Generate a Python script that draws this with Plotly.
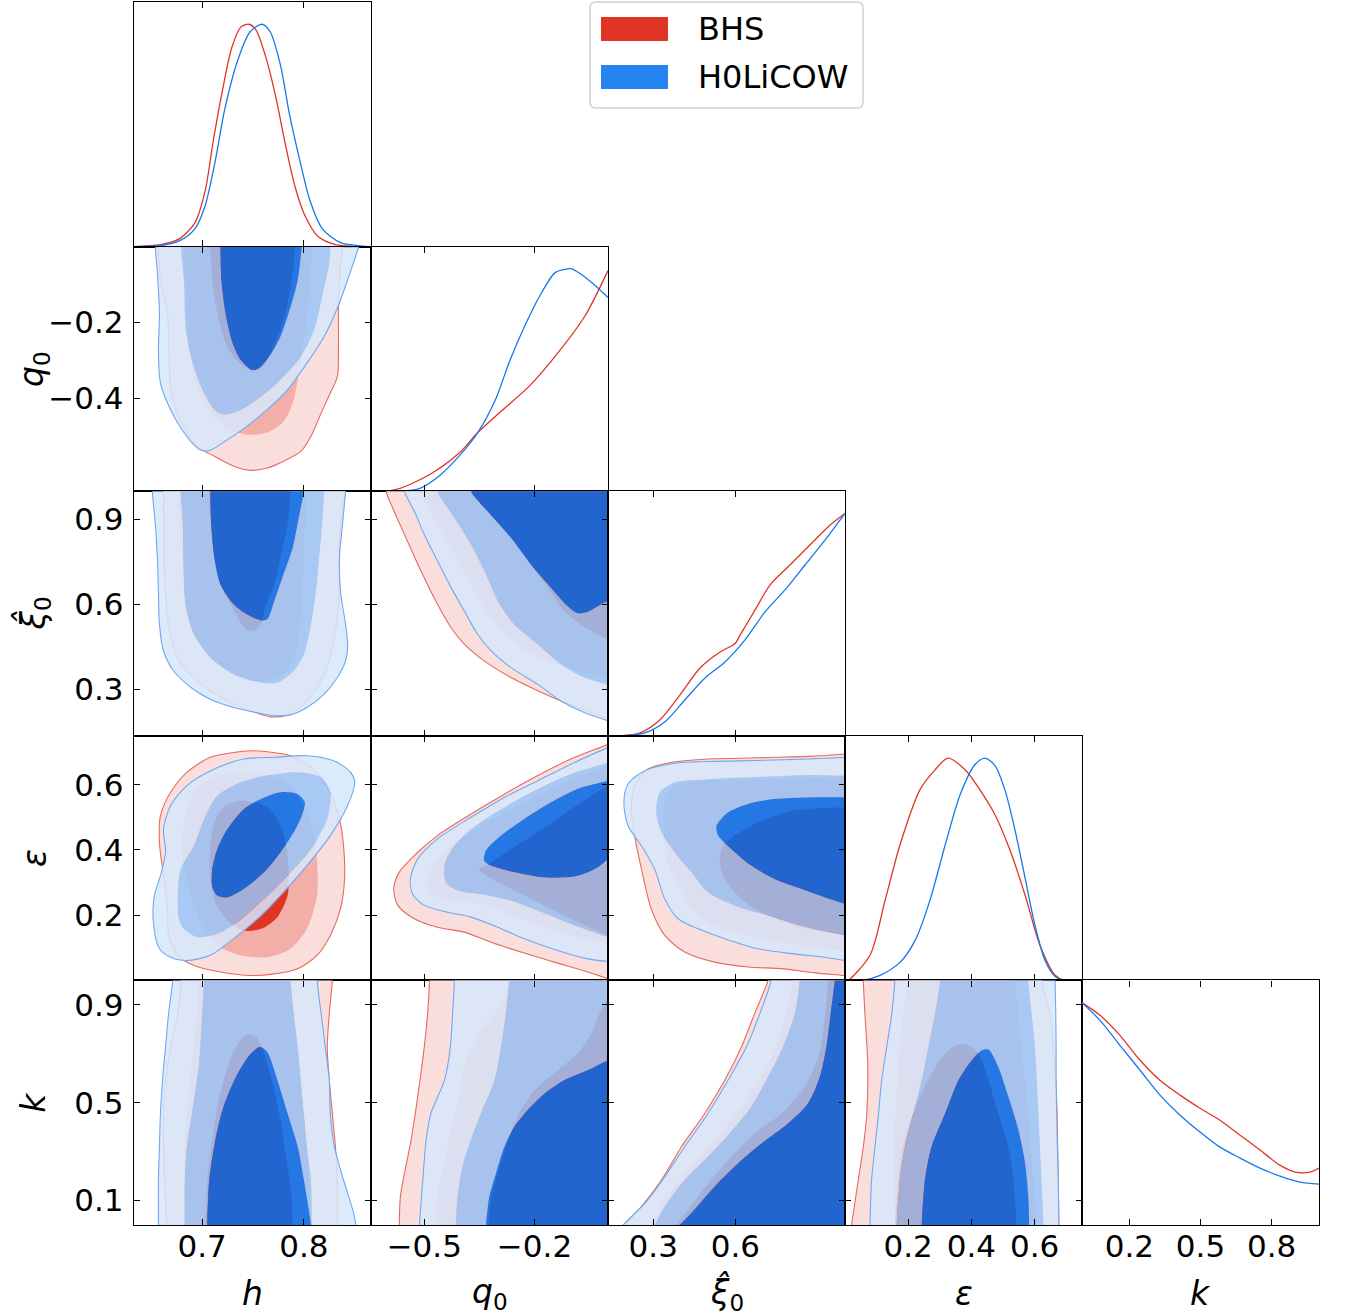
import plotly.graph_objects as go

# ---------------- axes ----------------
VARS = ['h', 'q0', 'xi0', 'eps', 'k']
RANGES = {'h': [0.633, 0.866], 'q0': [-0.645, 0.0], 'xi0': [0.135, 1.0],
          'eps': [0.0, 0.75], 'k': [0.0, 1.0]}
XTICKS = {'h': [0.7, 0.8], 'q0': [-0.5, -0.2], 'xi0': [0.3, 0.6],
          'eps': [0.2, 0.4, 0.6], 'k': [0.2, 0.5, 0.8]}
YTICKS = {'q0': [-0.2, -0.4], 'xi0': [0.3, 0.6, 0.9],
          'eps': [0.2, 0.4, 0.6], 'k': [0.1, 0.5, 0.9]}
LABELS = {'h': '<i>h</i>', 'q0': '<i>q</i><sub>0</sub>', 'xi0': '<i>ξ̂</i><sub>0</sub>',
          'eps': '<i>ε</i>', 'k': '<i>k</i>'}
SERIES = ['BHS', 'H0LiCOW']

# ---------------- 1D marginals ----------------
h1_red_x = [0.633, 0.659, 0.678, 0.693, 0.703, 0.711, 0.720, 0.729, 0.738, 0.746, 0.753, 0.762, 0.772, 0.781, 0.791, 0.801, 0.814, 0.831, 0.866]
h1_red_y = [0, 0.009, 0.036, 0.108, 0.252, 0.478, 0.703, 0.893, 0.987, 1.0, 0.974, 0.861, 0.681, 0.478, 0.275, 0.140, 0.045, 0.009, 0]
h1_blue_x = [0.633, 0.659, 0.678, 0.693, 0.703, 0.713, 0.722, 0.735, 0.747, 0.759, 0.767, 0.777, 0.786, 0.796, 0.806, 0.818, 0.836, 0.866]
h1_blue_y = [0, 0.005, 0.027, 0.081, 0.185, 0.388, 0.613, 0.838, 0.965, 1.0, 0.965, 0.816, 0.591, 0.388, 0.207, 0.081, 0.018, 0]

q1_red_x = [-0.607, -0.566, -0.484, -0.403, -0.354, -0.294, -0.212, -0.131, -0.062, 0.0]
q1_red_y = [0, 0.013, 0.076, 0.175, 0.265, 0.355, 0.476, 0.633, 0.790, 0.992]
q1_blue_x = [-0.566, -0.512, -0.457, -0.403, -0.354, -0.307, -0.267, -0.226, -0.185, -0.144, -0.109, -0.098, -0.076, -0.035, 0.0]
q1_blue_y = [0, 0.013, 0.072, 0.162, 0.265, 0.409, 0.588, 0.745, 0.880, 0.983, 1.0, 1.0, 0.979, 0.925, 0.871]

x1_red_x = [0.179, 0.252, 0.325, 0.398, 0.471, 0.544, 0.599, 0.617, 0.672, 0.726, 0.799, 0.872, 0.945, 1.0]
x1_red_y = [0, 0.013, 0.072, 0.184, 0.305, 0.377, 0.415, 0.453, 0.566, 0.678, 0.768, 0.858, 0.947, 1.0]
x1_blue_x = [0.197, 0.270, 0.343, 0.416, 0.489, 0.562, 0.635, 0.708, 0.781, 0.854, 0.927, 1.0]
x1_blue_y = [0, 0.013, 0.063, 0.162, 0.260, 0.332, 0.431, 0.557, 0.656, 0.768, 0.880, 1.0]

e1_red_x = [0.0, 0.009, 0.079, 0.127, 0.174, 0.237, 0.285, 0.326, 0.380, 0.427, 0.475, 0.522, 0.570, 0.617, 0.665, 0.696, 0.75]
e1_red_y = [0, 0, 0.113, 0.361, 0.609, 0.857, 0.947, 1.0, 0.947, 0.857, 0.744, 0.586, 0.383, 0.158, 0.023, 0, 0]
e1_blue_x = [0.0, 0.054, 0.111, 0.174, 0.222, 0.269, 0.317, 0.364, 0.411, 0.443, 0.475, 0.506, 0.538, 0.570, 0.601, 0.633, 0.665, 0.696, 0.75]
e1_blue_y = [0, 0, 0.023, 0.081, 0.180, 0.361, 0.609, 0.834, 0.970, 1.0, 0.965, 0.857, 0.676, 0.460, 0.248, 0.090, 0.018, 0, 0]

k1_red_x = [0, 0.076, 0.160, 0.245, 0.329, 0.414, 0.498, 0.582, 0.667, 0.751, 0.835, 0.899, 0.962, 1.0]
k1_red_y = [1.0, 0.943, 0.853, 0.741, 0.651, 0.584, 0.525, 0.471, 0.404, 0.337, 0.269, 0.238, 0.238, 0.256]
k1_blue_x = [0, 0.076, 0.160, 0.245, 0.329, 0.414, 0.498, 0.582, 0.667, 0.751, 0.835, 0.920, 1.0]
k1_blue_y = [1.0, 0.920, 0.808, 0.696, 0.584, 0.494, 0.418, 0.350, 0.301, 0.256, 0.220, 0.193, 0.184]

# ---------------- 2D contours (outer 3 -> inner 1), data units ----------------
# (h, q0)
hq_red3 = [(0.657, 0.05), (0.657, 0), (0.659, -0.088), (0.666, -0.176), (0.667, -0.263), (0.669, -0.369), (0.674, -0.430), (0.685, -0.492), (0.695, -0.527), (0.712, -0.553), (0.731, -0.579), (0.748, -0.590), (0.764, -0.584), (0.780, -0.566), (0.797, -0.540), (0.807, -0.500), (0.817, -0.439), (0.826, -0.386), (0.833, -0.342), (0.834, -0.263), (0.834, -0.176), (0.835, -0.088), (0.838, 0), (0.840, 0.05)]
hq_red2 = [(0.682, 0.05), (0.682, 0), (0.684, -0.132), (0.687, -0.263), (0.695, -0.369), (0.708, -0.439), (0.725, -0.479), (0.744, -0.496), (0.764, -0.490), (0.780, -0.461), (0.789, -0.413), (0.795, -0.334), (0.800, -0.246), (0.805, -0.132), (0.808, 0), (0.808, 0.05)]
hq_red1 = [(0.708, 0.05), (0.708, 0), (0.710, -0.088), (0.715, -0.176), (0.723, -0.255), (0.735, -0.303), (0.748, -0.327), (0.758, -0.320), (0.767, -0.281), (0.777, -0.220), (0.784, -0.149), (0.789, -0.070), (0.791, 0), (0.791, 0.05)]
hq_blue3 = [(0.654, 0.06), (0.654, 0), (0.656, -0.070), (0.658, -0.176), (0.657, -0.281), (0.659, -0.360), (0.666, -0.413), (0.676, -0.465), (0.689, -0.514), (0.699, -0.537), (0.708, -0.537), (0.725, -0.509), (0.744, -0.474), (0.764, -0.430), (0.784, -0.378), (0.803, -0.307), (0.820, -0.237), (0.833, -0.162), (0.843, -0.088), (0.854, 0), (0.860, 0.06)]
hq_blue2 = [(0.679, 0.04), (0.679, 0), (0.682, -0.088), (0.684, -0.220), (0.689, -0.290), (0.699, -0.369), (0.712, -0.430), (0.721, -0.443), (0.738, -0.430), (0.758, -0.395), (0.777, -0.351), (0.797, -0.290), (0.810, -0.220), (0.818, -0.132), (0.825, -0.044), (0.826, 0), (0.826, 0.04)]
hq_blue1 = [(0.718, 0.02), (0.718, 0), (0.719, -0.088), (0.723, -0.176), (0.730, -0.255), (0.738, -0.299), (0.749, -0.325), (0.756, -0.320), (0.766, -0.290), (0.777, -0.237), (0.787, -0.158), (0.794, -0.088), (0.798, 0), (0.799, 0.02)]

# (h, xi0)
hx_red3 = [(0.662, 1.05), (0.662, 1.0), (0.662, 0.882), (0.663, 0.706), (0.666, 0.553), (0.671, 0.459), (0.679, 0.388), (0.699, 0.317), (0.725, 0.258), (0.748, 0.223), (0.767, 0.202), (0.784, 0.209), (0.800, 0.247), (0.813, 0.306), (0.823, 0.376), (0.830, 0.482), (0.834, 0.588), (0.835, 0.694), (0.835, 0.823), (0.838, 0.941), (0.841, 1.0), (0.842, 1.05)]
hx_red2 = [(0.677, 1.05), (0.677, 1.0), (0.679, 0.823), (0.682, 0.647), (0.690, 0.506), (0.708, 0.412), (0.731, 0.353), (0.754, 0.327), (0.774, 0.341), (0.787, 0.388), (0.795, 0.482), (0.798, 0.612), (0.800, 0.765), (0.801, 0.882), (0.802, 1.0), (0.802, 1.05)]
hx_red1 = [(0.707, 1.05), (0.707, 1.0), (0.708, 0.882), (0.712, 0.765), (0.718, 0.670), (0.728, 0.600), (0.738, 0.535), (0.746, 0.506), (0.753, 0.512), (0.759, 0.541), (0.762, 0.588), (0.771, 0.670), (0.777, 0.765), (0.784, 0.882), (0.787, 1.0), (0.787, 1.05)]
hx_blue3 = [(0.651, 1.06), (0.651, 1.0), (0.654, 0.882), (0.656, 0.765), (0.657, 0.647), (0.658, 0.529), (0.662, 0.435), (0.672, 0.364), (0.689, 0.306), (0.708, 0.264), (0.731, 0.235), (0.758, 0.214), (0.771, 0.206), (0.787, 0.209), (0.803, 0.235), (0.820, 0.282), (0.833, 0.341), (0.841, 0.400), (0.843, 0.459), (0.841, 0.529), (0.836, 0.647), (0.835, 0.765), (0.838, 0.882), (0.841, 1.0), (0.842, 1.06)]
hx_blue2 = [(0.679, 1.04), (0.679, 1.0), (0.681, 0.882), (0.682, 0.706), (0.684, 0.588), (0.692, 0.494), (0.708, 0.412), (0.731, 0.353), (0.758, 0.323), (0.774, 0.323), (0.790, 0.364), (0.800, 0.423), (0.807, 0.529), (0.812, 0.647), (0.815, 0.765), (0.818, 0.882), (0.820, 1.0), (0.820, 1.04)]
hx_blue1 = [(0.708, 1.02), (0.708, 1.0), (0.709, 0.882), (0.712, 0.765), (0.718, 0.670), (0.731, 0.600), (0.744, 0.565), (0.758, 0.543), (0.764, 0.547), (0.771, 0.612), (0.780, 0.706), (0.789, 0.800), (0.795, 0.906), (0.800, 1.0), (0.800, 1.02)]

# (q0, xi0)
qx_red3 = [(-0.604, 1.05), (-0.604, 1.0), (-0.582, 0.929), (-0.554, 0.847), (-0.509, 0.718), (-0.464, 0.600), (-0.427, 0.517), (-0.391, 0.459), (-0.337, 0.400), (-0.264, 0.341), (-0.191, 0.294), (-0.119, 0.253), (-0.055, 0.223), (0.0, 0.194), (0.05, 0.17), (0.05, 1.05)]
qx_red2 = [(-0.509, 1.05), (-0.509, 1.0), (-0.464, 0.882), (-0.418, 0.776), (-0.373, 0.670), (-0.337, 0.588), (-0.291, 0.506), (-0.237, 0.447), (-0.164, 0.400), (-0.083, 0.364), (0.0, 0.341), (0.05, 0.33), (0.05, 1.05)]
qx_red1 = [(-0.373, 1.05), (-0.373, 1.0), (-0.328, 0.929), (-0.264, 0.835), (-0.210, 0.741), (-0.164, 0.659), (-0.119, 0.576), (-0.074, 0.529), (-0.028, 0.494), (0.0, 0.476), (0.05, 0.45), (0.05, 1.05)]
qx_blue3 = [(-0.554, 1.06), (-0.554, 1.0), (-0.527, 0.929), (-0.500, 0.847), (-0.464, 0.753), (-0.427, 0.659), (-0.391, 0.576), (-0.355, 0.494), (-0.318, 0.435), (-0.264, 0.376), (-0.191, 0.317), (-0.128, 0.258), (-0.065, 0.217), (0.0, 0.188), (0.06, 0.16), (0.06, 1.06)]
qx_blue2 = [(-0.464, 1.04), (-0.464, 1.0), (-0.418, 0.906), (-0.373, 0.812), (-0.332, 0.706), (-0.300, 0.612), (-0.255, 0.529), (-0.191, 0.459), (-0.128, 0.388), (-0.065, 0.341), (0.0, 0.315), (0.04, 0.30), (0.04, 1.04)]
qx_blue1 = [(-0.373, 1.02), (-0.373, 1.0), (-0.328, 0.929), (-0.264, 0.835), (-0.210, 0.741), (-0.155, 0.659), (-0.110, 0.594), (-0.083, 0.569), (-0.055, 0.574), (-0.019, 0.600), (0.0, 0.612), (0.02, 0.62), (0.02, 1.02)]

# (h, eps) closed
he_red3 = [(0.748, 0.704), (0.731, 0.699), (0.708, 0.684), (0.685, 0.638), (0.669, 0.577), (0.659, 0.505), (0.658, 0.423), (0.662, 0.321), (0.666, 0.219), (0.667, 0.138), (0.676, 0.077), (0.692, 0.046), (0.718, 0.026), (0.748, 0.015), (0.771, 0.020), (0.794, 0.036), (0.813, 0.077), (0.826, 0.138), (0.836, 0.219), (0.840, 0.311), (0.839, 0.413), (0.835, 0.495), (0.826, 0.577), (0.810, 0.648), (0.787, 0.689), (0.764, 0.701)]
he_red2 = [(0.741, 0.638), (0.715, 0.628), (0.695, 0.587), (0.684, 0.525), (0.681, 0.444), (0.682, 0.342), (0.689, 0.260), (0.699, 0.179), (0.715, 0.107), (0.738, 0.077), (0.764, 0.071), (0.787, 0.097), (0.803, 0.158), (0.813, 0.260), (0.813, 0.362), (0.810, 0.454), (0.800, 0.536), (0.787, 0.597), (0.767, 0.630)]
he_red1 = [(0.738, 0.551), (0.721, 0.531), (0.712, 0.485), (0.708, 0.413), (0.708, 0.321), (0.713, 0.240), (0.725, 0.184), (0.741, 0.153), (0.758, 0.158), (0.774, 0.194), (0.784, 0.260), (0.785, 0.342), (0.782, 0.423), (0.774, 0.495), (0.761, 0.536)]
he_blue3 = [(0.658, 0.097), (0.669, 0.071), (0.685, 0.061), (0.708, 0.077), (0.731, 0.128), (0.758, 0.199), (0.780, 0.270), (0.803, 0.352), (0.826, 0.444), (0.843, 0.536), (0.850, 0.607), (0.846, 0.638), (0.830, 0.673), (0.803, 0.689), (0.771, 0.684), (0.741, 0.679), (0.712, 0.648), (0.685, 0.597), (0.669, 0.536), (0.662, 0.464), (0.664, 0.393), (0.659, 0.321), (0.653, 0.260), (0.652, 0.179)]
he_blue2 = [(0.682, 0.158), (0.695, 0.133), (0.715, 0.143), (0.735, 0.179), (0.761, 0.250), (0.784, 0.321), (0.807, 0.403), (0.823, 0.495), (0.826, 0.577), (0.817, 0.622), (0.794, 0.638), (0.764, 0.628), (0.738, 0.607), (0.715, 0.566), (0.702, 0.495), (0.692, 0.413), (0.679, 0.342), (0.676, 0.260), (0.677, 0.189)]
he_blue1 = [(0.710, 0.286), (0.715, 0.260), (0.725, 0.255), (0.741, 0.281), (0.761, 0.332), (0.777, 0.393), (0.790, 0.454), (0.798, 0.505), (0.801, 0.546), (0.794, 0.571), (0.777, 0.577), (0.761, 0.561), (0.741, 0.525), (0.725, 0.464), (0.715, 0.403), (0.710, 0.342)]

# (q0, eps)
qe_red3 = [(0.05, 0.75), (0.0, 0.724), (-0.101, 0.679), (-0.191, 0.628), (-0.282, 0.571), (-0.373, 0.510), (-0.464, 0.444), (-0.527, 0.383), (-0.568, 0.332), (-0.583, 0.281), (-0.572, 0.230), (-0.527, 0.189), (-0.464, 0.163), (-0.391, 0.148), (-0.318, 0.117), (-0.237, 0.087), (-0.146, 0.056), (-0.055, 0.026), (0.0, 0.005), (0.05, -0.02)]
qe_red2 = [(0.05, 0.68), (0.0, 0.658), (-0.101, 0.617), (-0.191, 0.566), (-0.282, 0.515), (-0.373, 0.454), (-0.445, 0.393), (-0.486, 0.332), (-0.491, 0.291), (-0.473, 0.260), (-0.409, 0.240), (-0.346, 0.235), (-0.282, 0.209), (-0.210, 0.179), (-0.137, 0.148), (-0.055, 0.128), (0.0, 0.117), (0.05, 0.11)]
qe_red1 = [(0.05, 0.62), (0.0, 0.597), (-0.101, 0.525), (-0.191, 0.454), (-0.264, 0.403), (-0.332, 0.352), (-0.350, 0.342), (-0.346, 0.332), (-0.282, 0.291), (-0.191, 0.240), (-0.101, 0.189), (0.0, 0.138), (0.05, 0.12)]
qe_blue3 = [(0.06, 0.74), (0.0, 0.714), (-0.101, 0.663), (-0.191, 0.612), (-0.282, 0.561), (-0.373, 0.500), (-0.464, 0.434), (-0.518, 0.372), (-0.538, 0.311), (-0.532, 0.265), (-0.500, 0.230), (-0.436, 0.209), (-0.373, 0.194), (-0.300, 0.163), (-0.228, 0.128), (-0.137, 0.092), (-0.055, 0.066), (0.0, 0.058), (0.06, 0.05)]
qe_blue2 = [(0.04, 0.68), (0.0, 0.668), (-0.101, 0.633), (-0.191, 0.587), (-0.282, 0.531), (-0.373, 0.464), (-0.418, 0.413), (-0.444, 0.357), (-0.441, 0.301), (-0.409, 0.276), (-0.346, 0.265), (-0.264, 0.245), (-0.191, 0.214), (-0.101, 0.173), (0.0, 0.133), (0.04, 0.12)]
qe_blue1 = [(0.02, 0.62), (0.0, 0.612), (-0.083, 0.587), (-0.155, 0.546), (-0.228, 0.495), (-0.291, 0.444), (-0.332, 0.398), (-0.337, 0.367), (-0.318, 0.352), (-0.255, 0.332), (-0.173, 0.316), (-0.083, 0.321), (-0.028, 0.347), (0.0, 0.372), (0.02, 0.39)]

# (xi0, eps)
xe_red3 = [(1.05, 0.70), (1.0, 0.694), (0.865, 0.687), (0.743, 0.684), (0.622, 0.681), (0.500, 0.679), (0.378, 0.670), (0.281, 0.648), (0.232, 0.597), (0.220, 0.515), (0.232, 0.444), (0.257, 0.342), (0.293, 0.219), (0.342, 0.138), (0.415, 0.087), (0.524, 0.056), (0.646, 0.041), (0.768, 0.036), (0.890, 0.023), (1.0, 0.015), (1.05, 0.01)]
xe_red2 = [(1.05, 0.622), (1.0, 0.622), (0.743, 0.617), (0.500, 0.612), (0.378, 0.597), (0.342, 0.546), (0.339, 0.464), (0.348, 0.372), (0.391, 0.291), (0.451, 0.209), (0.537, 0.163), (0.646, 0.138), (0.768, 0.117), (0.890, 0.102), (1.0, 0.092), (1.05, 0.09)]
xe_red1 = [(1.05, 0.531), (1.0, 0.531), (0.804, 0.520), (0.683, 0.485), (0.597, 0.444), (0.555, 0.413), (0.543, 0.372), (0.555, 0.321), (0.597, 0.270), (0.670, 0.219), (0.768, 0.184), (0.865, 0.158), (1.0, 0.138), (1.05, 0.13)]
xe_blue3 = [(1.06, 0.69), (1.0, 0.684), (0.865, 0.679), (0.743, 0.676), (0.622, 0.673), (0.500, 0.671), (0.378, 0.666), (0.269, 0.643), (0.208, 0.602), (0.193, 0.546), (0.208, 0.474), (0.257, 0.413), (0.305, 0.342), (0.342, 0.250), (0.391, 0.189), (0.464, 0.158), (0.561, 0.128), (0.683, 0.097), (0.804, 0.082), (0.926, 0.071), (1.0, 0.061), (1.06, 0.055)]
xe_blue2 = [(1.04, 0.628), (1.0, 0.628), (0.865, 0.630), (0.743, 0.626), (0.622, 0.622), (0.500, 0.617), (0.378, 0.607), (0.324, 0.577), (0.311, 0.515), (0.330, 0.454), (0.378, 0.393), (0.439, 0.332), (0.500, 0.270), (0.597, 0.230), (0.719, 0.199), (0.865, 0.163), (1.0, 0.138), (1.04, 0.13)]
xe_blue1 = [(1.02, 0.561), (1.0, 0.561), (0.865, 0.561), (0.743, 0.556), (0.646, 0.541), (0.573, 0.515), (0.531, 0.474), (0.537, 0.444), (0.585, 0.403), (0.658, 0.352), (0.743, 0.311), (0.841, 0.281), (0.926, 0.255), (1.0, 0.235), (1.02, 0.23)]

# (h, k)
hk_red3 = [(0.679, 1.05), (0.679, 1.0), (0.676, 0.864), (0.669, 0.728), (0.664, 0.592), (0.662, 0.456), (0.662, 0.320), (0.663, 0.184), (0.665, 0.0), (0.665, -0.05), (0.833, -0.05), (0.833, 0.0), (0.833, 0.184), (0.831, 0.320), (0.828, 0.456), (0.825, 0.592), (0.823, 0.728), (0.825, 0.864), (0.828, 1.0), (0.828, 1.05)]
hk_red2 = [(0.697, 1.05), (0.697, 1.0), (0.695, 0.864), (0.692, 0.728), (0.688, 0.592), (0.685, 0.456), (0.683, 0.320), (0.682, 0.184), (0.682, 0.0), (0.682, -0.05), (0.807, -0.05), (0.807, 0.0), (0.805, 0.184), (0.803, 0.320), (0.800, 0.456), (0.795, 0.660), (0.790, 0.864), (0.787, 1.0), (0.787, 1.05)]
hk_red1 = [(0.703, -0.05), (0.703, 0.0), (0.705, 0.184), (0.710, 0.347), (0.715, 0.483), (0.725, 0.646), (0.735, 0.741), (0.744, 0.778), (0.753, 0.769), (0.759, 0.728), (0.764, 0.660), (0.771, 0.551), (0.777, 0.429), (0.782, 0.293), (0.787, 0.156), (0.789, 0.0), (0.789, -0.05)]
hk_blue3 = [(0.671, 1.06), (0.671, 1.0), (0.667, 0.864), (0.664, 0.728), (0.661, 0.592), (0.659, 0.456), (0.658, 0.320), (0.657, 0.184), (0.657, 0.0), (0.657, -0.06), (0.851, -0.06), (0.851, 0.0), (0.849, 0.048), (0.839, 0.184), (0.830, 0.320), (0.826, 0.456), (0.825, 0.592), (0.821, 0.728), (0.817, 0.864), (0.813, 1.0), (0.813, 1.06)]
hk_blue2 = [(0.702, 1.04), (0.702, 1.0), (0.700, 0.864), (0.697, 0.660), (0.690, 0.456), (0.685, 0.320), (0.683, 0.184), (0.683, 0.0), (0.683, -0.04), (0.808, -0.04), (0.808, 0.0), (0.807, 0.184), (0.803, 0.320), (0.800, 0.456), (0.797, 0.592), (0.794, 0.728), (0.790, 0.864), (0.787, 1.0), (0.787, 1.04)]
hk_blue1 = [(0.705, -0.02), (0.705, 0.0), (0.707, 0.184), (0.713, 0.347), (0.721, 0.483), (0.735, 0.619), (0.748, 0.701), (0.757, 0.728), (0.764, 0.707), (0.774, 0.592), (0.784, 0.456), (0.794, 0.320), (0.800, 0.184), (0.807, 0.0), (0.807, -0.02)]

# (q0, k)
qk_red3 = [(-0.486, 1.05), (-0.486, 1.0), (-0.491, 0.864), (-0.500, 0.728), (-0.518, 0.524), (-0.536, 0.347), (-0.554, 0.211), (-0.565, 0.116), (-0.568, 0.0), (-0.568, -0.05), (0.05, -0.05), (0.05, 1.05)]
qk_red2 = [(-0.273, 1.05), (-0.273, 1.0), (-0.282, 0.918), (-0.346, 0.796), (-0.391, 0.660), (-0.405, 0.524), (-0.427, 0.388), (-0.445, 0.252), (-0.464, 0.116), (-0.468, 0.0), (-0.468, -0.05), (0.05, -0.05), (0.05, 1.05)]
qk_red1 = [(0.05, 0.90), (0.0, 0.918), (-0.019, 0.878), (-0.046, 0.782), (-0.083, 0.701), (-0.137, 0.633), (-0.191, 0.565), (-0.232, 0.483), (-0.255, 0.415), (-0.278, 0.320), (-0.300, 0.211), (-0.317, 0.116), (-0.326, 0.0), (-0.326, -0.05), (0.05, -0.05)]
qk_blue3 = [(-0.418, 1.06), (-0.418, 1.0), (-0.423, 0.864), (-0.429, 0.728), (-0.445, 0.592), (-0.482, 0.456), (-0.495, 0.347), (-0.504, 0.184), (-0.513, 0.0), (-0.513, -0.06), (0.06, -0.06), (0.06, 1.06)]
qk_blue2 = [(-0.269, 1.04), (-0.269, 1.0), (-0.278, 0.864), (-0.291, 0.728), (-0.309, 0.592), (-0.346, 0.456), (-0.373, 0.347), (-0.396, 0.238), (-0.409, 0.116), (-0.414, 0.0), (-0.414, -0.04), (0.04, -0.04), (0.04, 1.04)]
qk_blue1 = [(0.02, 0.68), (0.0, 0.673), (-0.055, 0.633), (-0.119, 0.592), (-0.173, 0.537), (-0.219, 0.469), (-0.255, 0.401), (-0.282, 0.320), (-0.305, 0.211), (-0.323, 0.116), (-0.332, 0.0), (-0.332, -0.02), (0.02, -0.02)]

# (xi0, k)
xk_red3 = [(0.725, 1.05), (0.719, 1.0), (0.670, 0.864), (0.622, 0.728), (0.561, 0.592), (0.488, 0.456), (0.403, 0.320), (0.330, 0.184), (0.257, 0.075), (0.196, 0.0), (0.16, -0.05), (1.05, -0.05), (1.05, 1.05)]
xk_red2 = [(0.813, 1.05), (0.810, 1.0), (0.780, 0.837), (0.731, 0.687), (0.670, 0.565), (0.597, 0.442), (0.512, 0.333), (0.427, 0.224), (0.342, 0.102), (0.293, 0.0), (0.26, -0.05), (1.05, -0.05), (1.05, 1.05)]
xk_red1 = [(0.940, 1.05), (0.938, 1.0), (0.926, 0.837), (0.902, 0.687), (0.853, 0.565), (0.768, 0.456), (0.670, 0.374), (0.585, 0.279), (0.500, 0.170), (0.427, 0.061), (0.384, 0.0), (0.36, -0.05), (1.05, -0.05), (1.05, 1.05)]
xk_blue3 = [(0.737, 1.06), (0.731, 1.0), (0.689, 0.864), (0.640, 0.728), (0.573, 0.592), (0.500, 0.456), (0.415, 0.320), (0.342, 0.197), (0.269, 0.088), (0.190, 0.0), (0.150, -0.06), (1.06, -0.06), (1.06, 1.06)]
xk_blue2 = [(0.837, 1.04), (0.835, 1.0), (0.817, 0.864), (0.774, 0.728), (0.719, 0.605), (0.658, 0.483), (0.579, 0.374), (0.500, 0.279), (0.415, 0.184), (0.342, 0.075), (0.305, 0.0), (0.28, -0.04), (1.04, -0.04), (1.04, 1.04)]
xk_blue1 = [(0.965, 1.02), (0.963, 1.0), (0.948, 0.864), (0.932, 0.728), (0.908, 0.605), (0.865, 0.497), (0.792, 0.415), (0.695, 0.333), (0.610, 0.252), (0.524, 0.156), (0.439, 0.048), (0.397, 0.0), (0.38, -0.02), (1.02, -0.02), (1.02, 1.02)]

# (eps, k)
ek_red3 = [(0.058, 1.05), (0.058, 1.0), (0.063, 0.864), (0.072, 0.660), (0.069, 0.456), (0.058, 0.320), (0.042, 0.184), (0.021, 0.0), (0.017, -0.05), (0.68, -0.05), (0.677, 0.0), (0.675, 0.184), (0.673, 0.320), (0.671, 0.456), (0.667, 0.592), (0.659, 0.728), (0.649, 0.864), (0.622, 1.0), (0.615, 1.05)]
ek_red2 = [(0.195, 1.05), (0.195, 1.0), (0.185, 0.864), (0.174, 0.728), (0.167, 0.592), (0.160, 0.456), (0.156, 0.320), (0.155, 0.184), (0.158, 0.0), (0.158, -0.05), (0.607, -0.05), (0.607, 0.0), (0.596, 0.184), (0.580, 0.456), (0.559, 0.728), (0.538, 1.0), (0.538, 1.05)]
ek_red1 = [(0.158, -0.05), (0.158, 0.0), (0.164, 0.116), (0.179, 0.293), (0.200, 0.401), (0.232, 0.510), (0.274, 0.619), (0.317, 0.701), (0.359, 0.739), (0.390, 0.735), (0.422, 0.701), (0.454, 0.592), (0.485, 0.456), (0.517, 0.320), (0.533, 0.184), (0.543, 0.0), (0.543, -0.05)]
ek_blue3 = [(0.160, 1.06), (0.158, 1.0), (0.148, 0.864), (0.132, 0.728), (0.116, 0.592), (0.106, 0.456), (0.095, 0.320), (0.084, 0.184), (0.079, 0.0), (0.078, -0.06), (0.678, -0.06), (0.677, 0.0), (0.675, 0.184), (0.672, 0.320), (0.670, 0.456), (0.668, 0.592), (0.668, 0.728), (0.667, 0.864), (0.665, 1.0), (0.665, 1.06)]
ek_blue2 = [(0.301, 1.04), (0.301, 1.0), (0.285, 0.864), (0.264, 0.728), (0.243, 0.592), (0.216, 0.456), (0.190, 0.320), (0.174, 0.184), (0.164, 0.0), (0.164, -0.04), (0.628, -0.04), (0.628, 0.0), (0.622, 0.184), (0.617, 0.320), (0.612, 0.456), (0.607, 0.592), (0.601, 0.728), (0.591, 0.864), (0.580, 1.0), (0.580, 1.04)]
ek_blue1 = [(0.243, -0.02), (0.243, 0.0), (0.253, 0.184), (0.274, 0.320), (0.317, 0.456), (0.359, 0.592), (0.401, 0.673), (0.433, 0.714), (0.454, 0.717), (0.485, 0.646), (0.517, 0.524), (0.549, 0.388), (0.570, 0.252), (0.580, 0.116), (0.583, 0.0), (0.583, -0.02)]

CONTOURS = {
    ('h', 'q0'): ([hq_red3, hq_red2, hq_red1], [hq_blue3, hq_blue2, hq_blue1]),
    ('h', 'xi0'): ([hx_red3, hx_red2, hx_red1], [hx_blue3, hx_blue2, hx_blue1]),
    ('q0', 'xi0'): ([qx_red3, qx_red2, qx_red1], [qx_blue3, qx_blue2, qx_blue1]),
    ('h', 'eps'): ([he_red3, he_red2, he_red1], [he_blue3, he_blue2, he_blue1]),
    ('q0', 'eps'): ([qe_red3, qe_red2, qe_red1], [qe_blue3, qe_blue2, qe_blue1]),
    ('xi0', 'eps'): ([xe_red3, xe_red2, xe_red1], [xe_blue3, xe_blue2, xe_blue1]),
    ('h', 'k'): ([hk_red3, hk_red2, hk_red1], [hk_blue3, hk_blue2, hk_blue1]),
    ('q0', 'k'): ([qk_red3, qk_red2, qk_red1], [qk_blue3, qk_blue2, qk_blue1]),
    ('xi0', 'k'): ([xk_red3, xk_red2, xk_red1], [xk_blue3, xk_blue2, xk_blue1]),
    ('eps', 'k'): ([ek_red3, ek_red2, ek_red1], [ek_blue3, ek_blue2, ek_blue1]),
}
MARGINALS = {
    'h': (h1_red_x, h1_red_y, h1_blue_x, h1_blue_y),
    'q0': (q1_red_x, q1_red_y, q1_blue_x, q1_blue_y),
    'xi0': (x1_red_x, x1_red_y, x1_blue_x, x1_blue_y),
    'eps': (e1_red_x, e1_red_y, e1_blue_x, e1_blue_y),
    'k': (k1_red_x, k1_red_y, k1_blue_x, k1_blue_y),
}

# ---------------- styles ----------------
RED = [(250, 222, 220), (243, 174, 167), (224, 52, 36)]       # outer -> inner
BLUE = [(214, 232, 252), (153, 197, 248), (0, 111, 237)]      # outer -> inner
BLUE_ALPHA = 0.85
RED_EDGE = '#e66a5f'
BLUE_EDGE = '#6ea8f2'
FONT = 'DejaVu Sans'
SMOOTH = 0.8


def rgb(c):
    return 'rgb(%d,%d,%d)' % c


def rgba(c, a):
    return 'rgba(%d,%d,%d,%.2f)' % (c[0], c[1], c[2], a)


def signed_area(pts):
    s = 0.0
    for (x0, y0), (x1, y1) in zip(pts, pts[1:] + pts[:1]):
        s += x0 * y1 - x1 * y0
    return s


def ring(pts, ccw=True):
    """Closed ring (first point repeated) with the requested orientation."""
    p = list(pts)
    if (signed_area(p) > 0) != ccw:
        p = p[::-1]
    return p + p[:1]


def band(outer, inner):
    o = ring(outer, True)
    xs = [p[0] for p in o]
    ys = [p[1] for p in o]
    if inner is not None:
        i = ring(inner, False)
        xs += [None] + [p[0] for p in i]
        ys += [None] + [p[1] for p in i]
    return xs, ys


def fmt(v):
    return ('%.1f' % v).replace('-', '\u2212')


fig = go.Figure()
layout = {}
n = 0
for r in range(5):
    for c in range(r + 1):
        n += 1
        sfx = '' if n == 1 else str(n)
        xa, ya = 'x' + sfx, 'y' + sfx
        xv, yv = VARS[c], VARS[r]
        common = dict(showline=True, linecolor='black', linewidth=1.4, showgrid=False,
                      zeroline=False, ticks='inside', ticklen=6, tickwidth=1.4,
                      tickcolor='black', fixedrange=True,
                      tickfont=dict(family=FONT, size=31, color='black'))
        layout['xaxis' + sfx] = dict(common, domain=[0.2 * c, 0.2 * (c + 1)], range=RANGES[xv],
                                     anchor=ya, tickvals=XTICKS[xv],
                                     ticktext=[fmt(v) for v in XTICKS[xv]],
                                     showticklabels=(r == 4), mirror='ticks',
                                     ticklabelstandoff=-6)
        if r == c:
            layout['yaxis' + sfx] = dict(common, domain=[1 - 0.2 * (r + 1), 1 - 0.2 * r],
                                         range=[0, 1.1], anchor=xa, ticks='',
                                         showticklabels=False, mirror=True)
            rx, ry, bx, by = MARGINALS[xv]
            fig.add_trace(go.Scatter(x=rx, y=ry, mode='lines', xaxis=xa, yaxis=ya,
                                     line=dict(color=rgb(RED[2]), width=1.3, shape='spline',
                                               smoothing=SMOOTH),
                                     showlegend=False, hoverinfo='skip'))
            fig.add_trace(go.Scatter(x=bx, y=by, mode='lines', xaxis=xa, yaxis=ya,
                                     line=dict(color='rgb(20,120,238)', width=1.3,
                                               shape='spline', smoothing=SMOOTH),
                                     showlegend=False, hoverinfo='skip'))
        else:
            layout['yaxis' + sfx] = dict(common, domain=[1 - 0.2 * (r + 1), 1 - 0.2 * r],
                                         range=RANGES[yv], anchor=xa, tickvals=YTICKS[yv],
                                         ticktext=[fmt(v) for v in YTICKS[yv]],
                                         showticklabels=(c == 0), mirror='ticks',
                                         ticklabelstandoff=3)
            reds, blues = CONTOURS[(xv, yv)]
            # BHS: opaque nested fills
            for lev, cont in enumerate(reds):
                rr = ring(cont)
                fig.add_trace(go.Scatter(x=[p[0] for p in rr], y=[p[1] for p in rr],
                                         mode='lines', fill='toself', fillcolor=rgb(RED[lev]),
                                         line=dict(width=0, shape='spline', smoothing=SMOOTH),
                                         xaxis=xa, yaxis=ya, showlegend=False, hoverinfo='skip'))
            o = ring(reds[0])
            fig.add_trace(go.Scatter(x=[p[0] for p in o], y=[p[1] for p in o], mode='lines',
                                     line=dict(color=RED_EDGE, width=1.1, shape='spline',
                                               smoothing=SMOOTH),
                                     xaxis=xa, yaxis=ya, showlegend=False, hoverinfo='skip'))
            # H0LiCOW: translucent bands
            for lev in range(3):
                inner = blues[lev + 1] if lev < 2 else None
                bx_, by_ = band(blues[lev], inner)
                fig.add_trace(go.Scatter(x=bx_, y=by_, mode='lines', fill='toself',
                                         fillcolor=rgba(BLUE[lev], BLUE_ALPHA),
                                         line=dict(width=0, shape='spline', smoothing=SMOOTH),
                                         xaxis=xa, yaxis=ya, showlegend=False, hoverinfo='skip'))
            o = ring(blues[0])
            fig.add_trace(go.Scatter(x=[p[0] for p in o], y=[p[1] for p in o], mode='lines',
                                     line=dict(color=BLUE_EDGE, width=1.1, shape='spline',
                                               smoothing=SMOOTH),
                                     xaxis=xa, yaxis=ya, showlegend=False, hoverinfo='skip'))

# axis titles as annotations
W_PLOT, H_PLOT = 1185.0, 1223.0
annotations = []
for c, v in enumerate(VARS):
    annotations.append(dict(text=LABELS[v], xref='paper', yref='paper', x=0.2 * c + 0.1,
                            y=-68 / H_PLOT, xanchor='center', yanchor='middle', showarrow=False,
                            font=dict(family=FONT, size=33, color='black')))
for r, v in enumerate(VARS):
    if r == 0:
        continue
    annotations.append(dict(text=LABELS[v], xref='paper', yref='paper', x=-100 / W_PLOT,
                            y=1 - 0.2 * r - 0.1, xanchor='center', yanchor='middle',
                            showarrow=False, textangle=-90,
                            font=dict(family=FONT, size=33, color='black')))


# legend (manual)
def px(xp):
    return (xp - 134) / W_PLOT


def py(yp):
    return (1225 - yp) / H_PLOT


x0, x1, y0, y1 = px(590), px(863), py(108), py(2)
rx, ry = 6 / W_PLOT, 6 / H_PLOT
legend_path = ('M %f,%f L %f,%f Q %f,%f %f,%f L %f,%f Q %f,%f %f,%f L %f,%f Q %f,%f %f,%f '
               'L %f,%f Q %f,%f %f,%f Z') % (
    x0 + rx, y0, x1 - rx, y0, x1, y0, x1, y0 + ry, x1, y1 - ry, x1, y1, x1 - rx, y1,
    x0 + rx, y1, x0, y1, x0, y1 - ry, x0, y0 + ry, x0, y0, x0 + rx, y0)
shapes = [dict(type='path', xref='paper', yref='paper', path=legend_path,
               line=dict(color='#cfcfcf', width=1.5), fillcolor='white', layer='above')]
leg_colors = [rgb(RED[2]), rgba(BLUE[2], BLUE_ALPHA)]
leg_rows = [29, 77]
for name, col, yc in zip(SERIES, leg_colors, leg_rows):
    shapes.append(dict(type='rect', xref='paper', yref='paper', x0=px(601), x1=px(668),
                       y0=py(yc + 12), y1=py(yc - 12), fillcolor=col, line=dict(width=0),
                       layer='above'))
    annotations.append(dict(text=name, xref='paper', yref='paper', x=px(696), y=py(yc),
                            xanchor='left', yanchor='middle', showarrow=False,
                            font=dict(family=FONT, size=32, color='black')))

fig.update_layout(width=1346, height=1315, margin=dict(l=134, r=27, t=2, b=90),
                  paper_bgcolor='white', plot_bgcolor='white', showlegend=False,
                  annotations=annotations, shapes=shapes, **layout)
fig.write_html('out.html', config={'displayModeBar': False},
               post_script="document.body.style.margin='0px';document.body.style.overflow='hidden';")
